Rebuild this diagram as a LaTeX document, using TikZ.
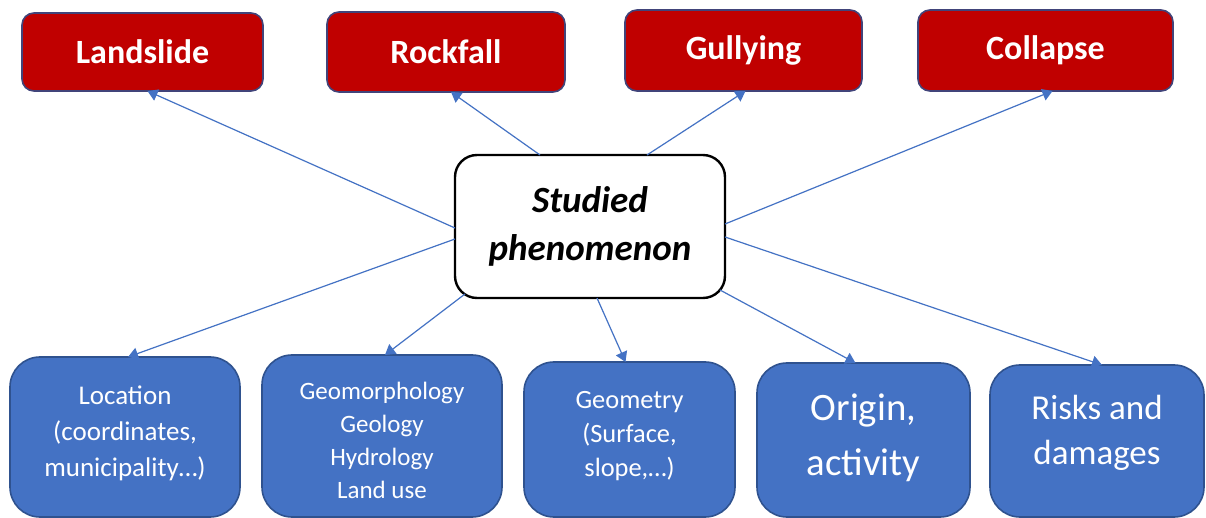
\documentclass[tikz,border=0pt]{standalone}
\usepackage{fontspec}
\setmainfont{Carlito}
\usetikzlibrary{calc,arrows.meta}
\definecolor{redfill}{HTML}{C00000}
\definecolor{redline}{HTML}{41447A}
\definecolor{bluefill}{HTML}{4472C4}
\definecolor{blueline}{HTML}{2F528F}
\definecolor{arrowcol}{HTML}{4472C4}
\begin{document}
\begin{tikzpicture}[x=0.5pt,y=-0.5pt,
  topbox/.style={draw=redline, line width=0.8pt, fill=redfill, rounded corners=6pt, text=white,
    font=\bfseries\fontsize{17}{20}\selectfont, inner sep=0pt, outer sep=0pt},
  botbox/.style={draw=blueline, line width=0.8pt, fill=bluefill, rounded corners=15pt,
    inner sep=0pt, outer sep=0pt},
  bottext/.style={text=white, align=center, inner sep=0pt},
  centerbox/.style={draw=black, line width=1.2pt, fill=white, rounded corners=11pt, align=center,
    font=\bfseries\itshape\fontsize{18.5}{24}\selectfont, inner sep=0pt, outer sep=0pt},
  link/.style={draw=arrowcol, line width=0.6pt, -{Triangle[length=5pt,width=6pt]}}
]
\useasboundingbox (0,0) rectangle (1206,518);
\fill[white] (0,0) rectangle (1206,518);

% top boxes
\node[topbox, minimum width=120.5pt, minimum height=39pt] (ls) at (142.5,52) {Landslide};
\node[topbox, minimum width=119pt, minimum height=40pt] (rf) at (446,52) {Rockfall};
\node[topbox, minimum width=118.5pt, minimum height=40.5pt] (gu) at (743.5,50.5) {Gullying};
\node[topbox, minimum width=127.5pt, minimum height=40.5pt] (co) at (1045.5,50.5) {Collapse};

% center
\node[centerbox, minimum width=135pt, minimum height=71.5pt] (c) at (590,226.5) {Studied\\phenomenon};

% bottom boxes
\node[botbox, minimum width=115pt, minimum height=80pt] (loc) at (125,437) {};
\node[bottext, font=\fontsize{13.5}{18}\selectfont] (loct) at ($(loc)+(0,-4)$)
  {Location\\(coordinates,\\municipality…)};
\node[botbox, minimum width=120pt, minimum height=81pt] (geo) at (382,436) {};
\node[bottext, font=\fontsize{12.5}{16.5}\selectfont] (geot) at ($(geo)+(0,4.5)$)
  {Geomorphology\\Geology\\Hydrology\\Land use};
\node[botbox, minimum width=105.5pt, minimum height=77.5pt] (gm) at (629.5,439.5) {};
\node[bottext, font=\fontsize{13.2}{17}\selectfont] (gmt) at ($(gm)+(0,-3)$)
  {Geometry\\(Surface,\\slope,…)};
\node[botbox, minimum width=106.5pt, minimum height=77pt] (or) at (863.5,440) {};
\node[bottext, font=\fontsize{19.4}{27.5}\selectfont] (ort) at ($(or)+(0,-2.5)$)
  {Origin,\\activity};
\node[botbox, minimum width=107pt, minimum height=76pt] (ri) at (1097,441) {};
\node[bottext, font=\fontsize{17.5}{22.5}\selectfont] (rit) at ($(ri)+(0,-8.5)$)
  {Risks and\\damages};

% connectors
\draw[link] ($(c.north west)+(0,73)$) -- ($(ls.south)+(5,0)$);
\draw[link] ($(c.north west)+(85,0)$) -- ($(rf.south)+(5,0)$);
\draw[link] ($(c.north west)+(192,0)$) -- ($(gu.south)+(2,0)$);
\draw[link] ($(c.north west)+(270,69)$) -- ($(co.south)+(7,0)$);
\draw[link] ($(c.north west)+(0,84)$) -- ($(loc.north)+(3,0)$);
\draw[link] ($(c.north west)+(10,139)$) -- ($(geo.north)+(3,0)$);
\draw[link] ($(c.north west)+(142,143)$) -- ($(gm.north)+(-4,0)$);
\draw[link] ($(c.north west)+(265,135)$) -- ($(or.north)+(-8,0)$);
\draw[link] ($(c.north west)+(270,82)$) -- ($(ri.north)+(5,0)$);
\end{tikzpicture}
\end{document}
